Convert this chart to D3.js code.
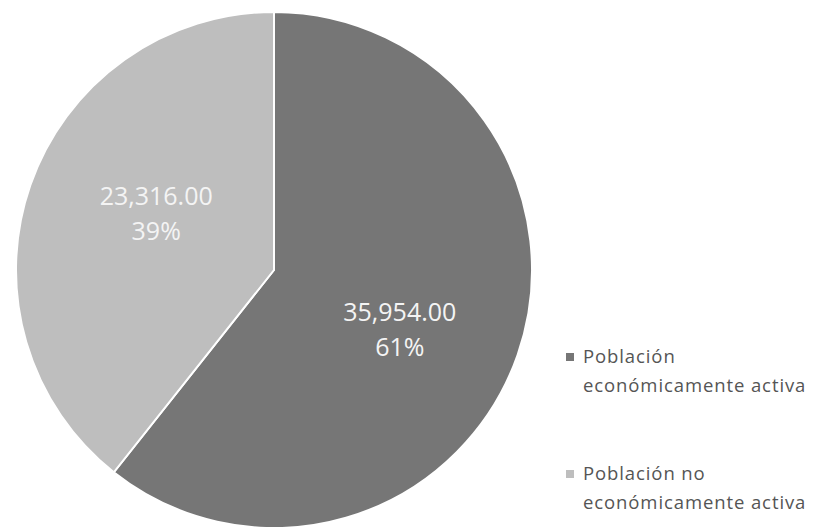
<!DOCTYPE html>
<html><head><meta charset="utf-8">
<script src="https://cdn.jsdelivr.net/npm/d3@7"></script>
<style>body{margin:0;background:#fff;}svg{display:block;}</style>
</head><body>
<svg id="c" width="814" height="527"></svg>
<script>
const categories = ["Población económicamente activa", "Población no económicamente activa"];
const values = [35954, 23316];
const legendLines = [["Población", "económicamente activa"], ["Población no", "económicamente activa"]];
const colors = ["#767676", "#bebebe"];

const svg = d3.select("#c");
const cx = 274, cy = 270, r = 258;
const total = d3.sum(values);
const pie = d3.pie().sort(null).value(d => d)(values);
const arc = d3.arc().innerRadius(0).outerRadius(r);
const g = svg.append("g").attr("transform", `translate(${cx},${cy})`);
g.selectAll("path").data(pie).enter().append("path")
  .attr("d", arc).attr("fill", (d, i) => colors[i])
  .attr("stroke", "#fff").attr("stroke-width", 2);

const fmt = d3.format(",.2f");
const labelArc = d3.arc().innerRadius(r * 0.5).outerRadius(r * 0.5);
const labelOffsets = [[4, 9], [4, -23]];
pie.forEach((d, i) => {
  const c = labelArc.centroid(d);
  const x = c[0] + labelOffsets[i][0], y = c[1] + labelOffsets[i][1];
  const t = g.append("text").attr("text-anchor", "middle")
    .attr("font-family", "Open Sans, sans-serif").attr("font-size", 25)
    .attr("fill", "#f4f4f4");
  t.append("tspan").attr("x", x).attr("y", y).text(fmt(values[i]));
  t.append("tspan").attr("x", x).attr("y", y + 35).text(Math.round(values[i] / total * 100) + "%");
});

const lg = svg.append("g");
const ly = [353, 470];
legendLines.forEach((lines, i) => {
  lg.append("rect").attr("x", 566).attr("y", ly[i]).attr("width", 8).attr("height", 8).attr("fill", colors[i]);
  const t = lg.append("text").attr("font-family", "Open Sans, sans-serif").attr("font-size", 18.5)
    .attr("letter-spacing", 0.9).attr("fill", "#555");
  lines.forEach((l, j) => t.append("tspan").attr("x", 583).attr("y", ly[i] + 10 + j * 29).text(l));
});
</script>
</body></html>
